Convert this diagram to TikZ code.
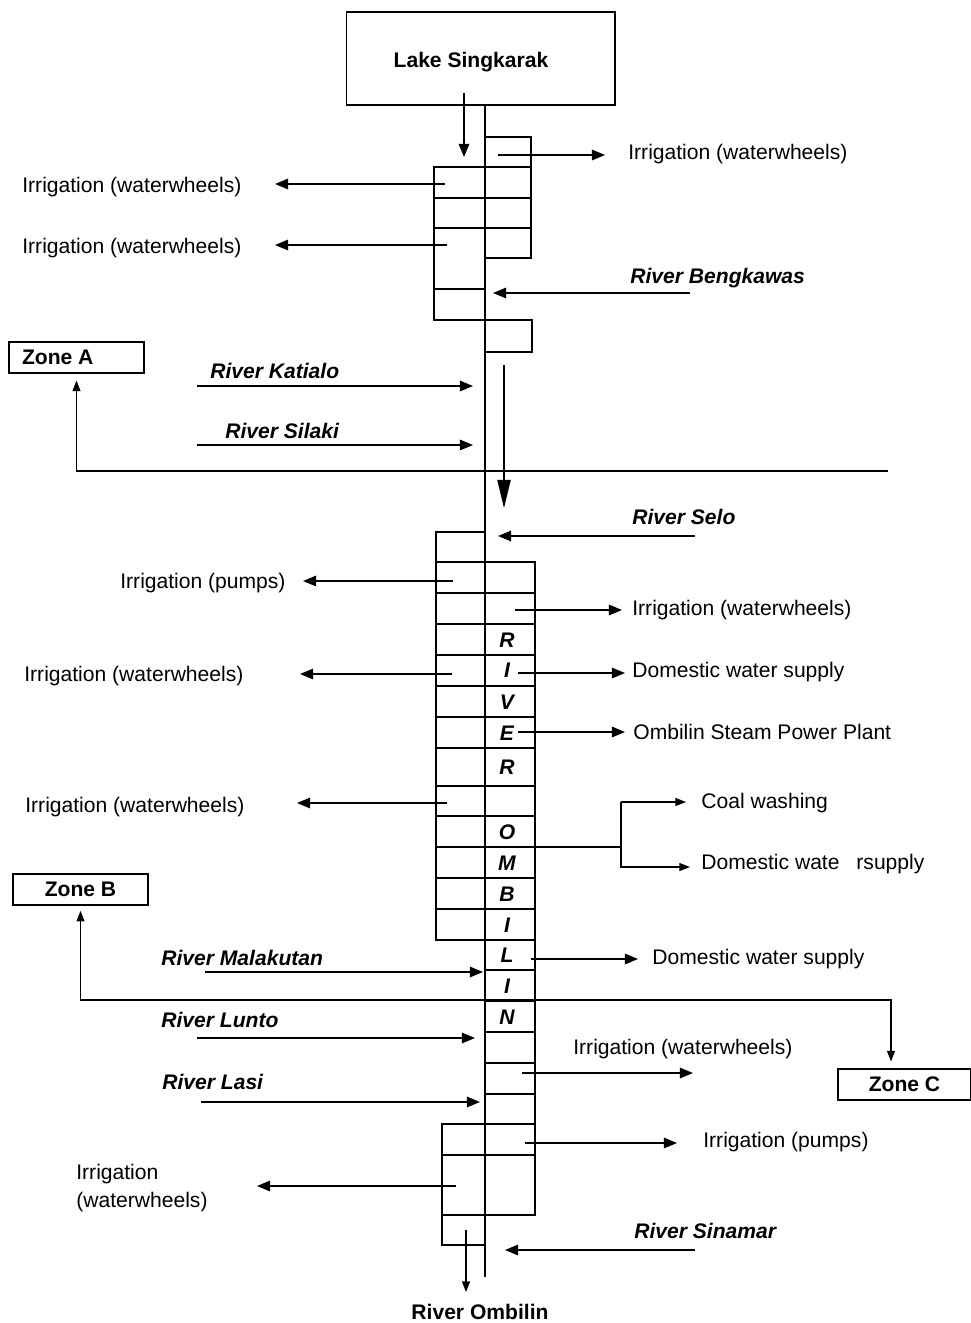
\documentclass[tikz,border=0pt]{standalone}
\usepackage{fontspec}
\setmainfont{Liberation Sans}
\usepackage{tikz}
\usetikzlibrary{arrows.meta, positioning}

\begin{document}
\begin{tikzpicture}[x=0.02cm, y=-0.02cm,
    cell/.style={line width=0.6pt},
    flow/.style={line width=0.9pt, -{Triangle[length=7.5pt, width=6pt]}},
    thin/.style={line width=0.6pt, -{Triangle[length=6pt, width=4.5pt]}},
    lbl/.style={anchor=west, inner sep=0pt, text height=8.6pt, text depth=0pt, font=\fontsize{12}{14}\selectfont},
    river/.style={lbl, font=\fontsize{12}{14}\selectfont\bfseries\itshape},
    letter/.style={inner sep=0pt, text height=8.6pt, text depth=0pt, font=\fontsize{12}{14}\selectfont\bfseries\itshape},
    zone/.style={draw, line width=0.6pt, minimum width=2.7cm, minimum height=0.62cm, inner sep=0pt, font=\fontsize{12}{14}\selectfont\bfseries}]
    \useasboundingbox (0,0) rectangle (971,1323);

    % lake and main channel
    \node[draw, line width=0.6pt, minimum width=5.38cm, minimum height=1.86cm] (lake) at (480.5,58.5) {};
    \node[lbl, anchor=center, font=\fontsize{12}{14}\selectfont\bfseries] (lakeText) at (471,60) {Lake Singkarak};
    \draw[cell] (485,105) -- (485,1277);

    % upper reach
    \draw[cell] (485,137) rectangle (531,258);
    \draw[cell] (434,167) rectangle (485,320);
    \foreach \y in {167,198,228} \draw[cell] (434,\y) -- (531,\y);
    \draw[cell] (434,289) -- (485,289);
    \draw[cell] (485,320) rectangle (532,352);

    % middle and lower reach
    \draw[cell] (436,532) rectangle (485,940);
    \draw[cell] (485,562) rectangle (535,1215);
    \foreach \y in {562,593,624,655,686,717,748,786,816,847,878,909,940} \draw[cell] (436,\y) -- (535,\y);
    \foreach \y in {970,1001,1032,1063,1094} \draw[cell] (485,\y) -- (535,\y);
    \draw[cell] (442,1124) rectangle (485,1245);
    \foreach \y in {1124,1155,1215} \draw[cell] (442,\y) -- (535,\y);

    \foreach \t/\y in {R/640, I/670, V/702, E/733, R/767, O/832, M/863, B/894, I/925, L/955, I/986, N/1017}
        \node[letter] (c\y) at (507,\y) {\t};

    % labels
    \node[lbl] (irrR1) at (628,152) {Irrigation (waterwheels)};
    \node[lbl] (irrL1) at (22,185) {Irrigation (waterwheels)};
    \node[lbl] (irrL2) at (22,246) {Irrigation (waterwheels)};
    \node[river] (bengkawas) at (630,276) {River Bengkawas};
    \node[zone, text width=2.18cm, align=flush left, inner xsep=0.26cm] (zoneA) at (76.5,357.5) {Zone A};
    \node[river] (katialo) at (210,371) {River Katialo};
    \node[river] (silaki) at (225,431) {River Silaki};
    \node[river] (selo) at (632,517) {River Selo};
    \node[lbl] (pumpsL) at (120,581) {Irrigation (pumps)};
    \node[lbl] (irrR2) at (632,608) {Irrigation (waterwheels)};
    \node[lbl] (irrL3) at (24,674) {Irrigation (waterwheels)};
    \node[lbl] (dom1) at (632,670) {Domestic water supply};
    \node[lbl] (steam) at (633,732) {Ombilin Steam Power Plant};
    \node[lbl] (irrL4) at (25,805) {Irrigation (waterwheels)};
    \node[lbl] (coal) at (701,801) {Coal washing};
    \node[lbl] (dom2) at (701,862) {Domestic wate\hspace{0.8em}rsupply};
    \node[zone] (zoneB) at (80.5,889.5) {Zone B};
    \node[river] (malakutan) at (161,958) {River Malakutan};
    \node[lbl] (dom3) at (652,957) {Domestic water supply};
    \node[river] (lunto) at (161,1020) {River Lunto};
    \node[lbl] (irrR3) at (573,1047) {Irrigation (waterwheels)};
    \node[zone, minimum width=2.66cm] (zoneC) at (904.5,1084.5) {Zone C};
    \node[river] (lasi) at (162,1082) {River Lasi};
    \node[lbl] (pumpsR) at (703,1140) {Irrigation (pumps)};
    \node[anchor=west, inner sep=0pt, align=left, font=\fontsize{12}{16.4}\selectfont] (irrL5) at (76,1188) {Irrigation\\(waterwheels)};
    \node[river] (sinamar) at (634,1231) {River Sinamar};
    \node[lbl, anchor=center, font=\fontsize{12}{14}\selectfont\bfseries] (ombilin) at (480,1312) {River Ombilin};

    % arrow ends
    \coordinate (lakeOut) at (464,93);   \coordinate (lakeIn) at (464,157);
    \coordinate (r1) at (498,155);       \coordinate (r1e) at (605,155);
    \coordinate (l1) at (445,184);       \coordinate (l1e) at (275,184);
    \coordinate (l2) at (447,245);       \coordinate (l2e) at (275,245);
    \coordinate (bk) at (690,293);       \coordinate (bke) at (493,293);
    \coordinate (kt) at (197,386);       \coordinate (kte) at (473,386);
    \coordinate (sl) at (197,445);       \coordinate (sle) at (473,445);
    \coordinate (dn) at (504,365);       \coordinate (dne) at (504,508);
    \coordinate (zA) at (888,471);
    \coordinate (se) at (695,536);       \coordinate (see) at (498,536);
    \coordinate (l3) at (453,581);       \coordinate (l3e) at (303,581);
    \coordinate (r2) at (515,610);       \coordinate (r2e) at (622,610);
    \coordinate (l4) at (452,674);       \coordinate (l4e) at (300,674);
    \coordinate (r3) at (518,673);       \coordinate (r3e) at (625,673);
    \coordinate (r4) at (518,732);       \coordinate (r4e) at (625,732);
    \coordinate (l5) at (447,803);       \coordinate (l5e) at (297,803);
    \coordinate (br) at (535,847);       \coordinate (brk) at (621,847);
    \coordinate (brA) at (686,802);      \coordinate (brB) at (690,867);
    \coordinate (r5) at (531,959);       \coordinate (r5e) at (638,959);
    \coordinate (ml) at (205,972);       \coordinate (mle) at (483,972);
    \coordinate (zC) at (891,1000);
    \coordinate (lu) at (197,1038);      \coordinate (lue) at (475,1038);
    \coordinate (r6) at (522,1073);      \coordinate (r6e) at (693,1073);
    \coordinate (la) at (201,1102);      \coordinate (lae) at (480,1102);
    \coordinate (r7) at (525,1143);      \coordinate (r7e) at (677,1143);
    \coordinate (l6) at (456,1186);      \coordinate (l6e) at (257,1186);
    \coordinate (sn) at (695,1250);      \coordinate (sne) at (505,1250);
    \coordinate (out) at (466,1230);     \coordinate (oute) at (466,1292);

    % connectors
    \draw[flow] (lakeOut) -- (lakeIn);
    \draw[flow] (r1) -- (r1e);
    \draw[flow] (l1) -- (l1e);
    \draw[flow] (l2) -- (l2e);
    \draw[flow] (bk) -- (bke);
    \draw[flow] (kt) -- (kte);
    \draw[flow] (sl) -- (sle);
    \draw[line width=1pt, -{Triangle[length=16pt, width=7.5pt]}] (dn) -- (dne);
    \draw[thin, shorten >=4pt] (zA) -| (zoneA.south);
    \draw[flow] (se) -- (see);
    \draw[flow] (l3) -- (l3e);
    \draw[flow] (r2) -- (r2e);
    \draw[flow] (l4) -- (l4e);
    \draw[flow] (r3) -- (r3e);
    \draw[flow] (r4) -- (r4e);
    \draw[flow] (l5) -- (l5e);
    \draw[cell] (br) -- (brk);
    \draw[thin] (brk |- brA) -- (brA);
    \draw[thin] (brk |- brA) -- (brk |- brB) -- (brB);
    \draw[flow] (r5) -- (r5e);
    \draw[flow] (ml) -- (mle);
    \draw[thin, {Triangle[length=6pt, width=4.5pt]}-{Triangle[length=6pt, width=4.5pt]}, shorten <=3pt, shorten >=4pt] (zoneB.south) |- (zC) -- (zC |- zoneC.north);
    \draw[flow] (lu) -- (lue);
    \draw[flow] (r6) -- (r6e);
    \draw[flow] (la) -- (lae);
    \draw[flow] (r7) -- (r7e);
    \draw[flow] (l6) -- (l6e);
    \draw[flow] (sn) -- (sne);
    \draw[thin] (out) -- (oute);
\end{tikzpicture}
\end{document}
